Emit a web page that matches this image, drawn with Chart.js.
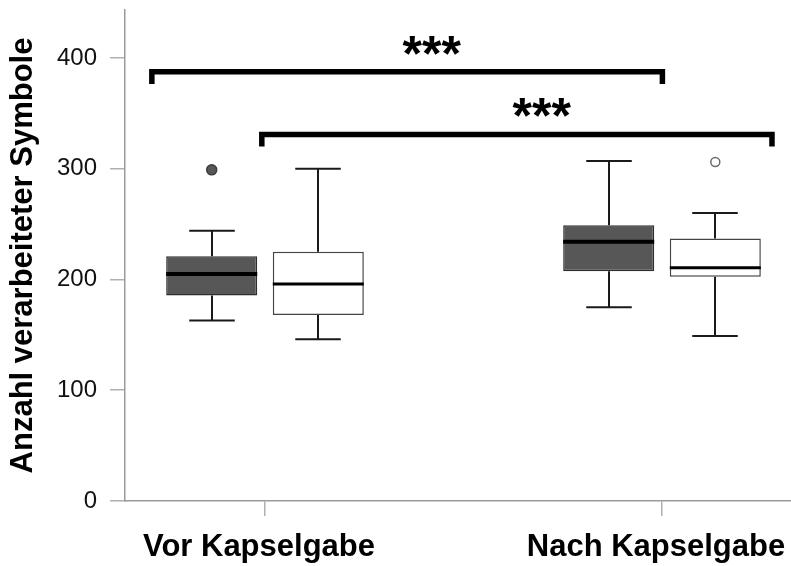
<!DOCTYPE html>
<html>
<head>
<meta charset="utf-8">
<script src="https://cdn.jsdelivr.net/npm/chart.js@4/dist/chart.umd.min.js"></script>
<style>
  html, body { margin: 0; padding: 0; background: #fff; }
  #wrap { width: 791px; height: 566px; }
</style>
</head>
<body>
<div id="wrap"><canvas id="c" width="791" height="566"></canvas></div>
<script>
// Zeitpunkte
const categories = ['Vor Kapselgabe', 'Nach Kapselgabe'];
const yTicks = [0, 100, 200, 300, 400];

// Gruppe 1 (dunkle Boxen)
const darkMin     = [163, 175];
const darkQ1      = [185.5, 207.5];
const darkMedian  = [205, 234];
const darkQ3      = [221, 249];
const darkMax     = [244, 307];
const darkOutliers = [[299], []];

// Gruppe 2 (helle Boxen)
const lightMin     = [146, 149];
const lightQ1      = [168, 202.5];
const lightMedian  = [196, 210.5];
const lightQ3      = [225, 237];
const lightMax     = [300, 260];
const lightOutliers = [[], [306]];

// Signifikanzklammern
const sigLabels = ['***', '***'];
const sigLevels = [387.5, 331];

const FONT = "'Liberation Sans', Arial, Helvetica, sans-serif";

const groups = [
  { min: darkMin, q1: darkQ1, med: darkMedian, q3: darkQ3, max: darkMax, out: darkOutliers,
    medWidth: 4, outFill: '#575757', outStroke: '#3c3c3c', outRadius: 5 },
  { min: lightMin, q1: lightQ1, med: lightMedian, q3: lightQ3, max: lightMax, out: lightOutliers,
    medWidth: 3, outFill: '#ffffff', outStroke: '#6a6a6a', outRadius: 4.5 }
];

// Klammergeometrie (in Achseneinheiten der x-Achse)
const brackets = [
  { from: 0.715, to: 2.001, drop: 11, textX: 1.42,  textY: 414 },
  { from: 0.992, to: 2.277, drop: 11, textX: 1.697, textY: 358 }
];

const boxPlugin = {
  id: 'boxWhiskers',
  beforeDatasetsDraw(chart) {
    const { ctx, scales: { y } } = chart;
    ctx.save();
    ctx.strokeStyle = '#1a1a1a';
    ctx.lineWidth = 2;
    ctx.lineCap = 'butt';
    groups.forEach((g, di) => {
      chart.getDatasetMeta(di).data.forEach((el, i) => {
        const cx = Math.round(el.x);
        const capHalf = el.width / 4;
        const yMax = y.getPixelForValue(g.max[i]);
        const yMin = y.getPixelForValue(g.min[i]);
        const yQ3 = y.getPixelForValue(g.q3[i]);
        const yQ1 = y.getPixelForValue(g.q1[i]);
        ctx.beginPath();
        ctx.moveTo(cx, yQ3); ctx.lineTo(cx, yMax);
        ctx.moveTo(cx - capHalf, yMax); ctx.lineTo(cx + capHalf, yMax);
        ctx.moveTo(cx, yQ1); ctx.lineTo(cx, yMin);
        ctx.moveTo(cx - capHalf, yMin); ctx.lineTo(cx + capHalf, yMin);
        ctx.stroke();
      });
    });
    ctx.restore();
  },
  afterDatasetsDraw(chart) {
    const { ctx, scales: { y } } = chart;
    ctx.save();
    groups.forEach((g, di) => {
      chart.getDatasetMeta(di).data.forEach((el, i) => {
        const half = el.width / 2;
        const ym = y.getPixelForValue(g.med[i]);
        ctx.strokeStyle = '#000';
        ctx.lineWidth = g.medWidth;
        ctx.beginPath();
        ctx.moveTo(el.x - half, ym);
        ctx.lineTo(el.x + half, ym);
        ctx.stroke();
        g.out[i].forEach(v => {
          ctx.beginPath();
          ctx.arc(el.x, y.getPixelForValue(v), g.outRadius, 0, Math.PI * 2);
          ctx.fillStyle = g.outFill;
          ctx.fill();
          ctx.lineWidth = 1.5;
          ctx.strokeStyle = g.outStroke;
          ctx.stroke();
        });
      });
    });
    ctx.restore();
  },
  afterDraw(chart) {
    const { ctx, scales: { x, y } } = chart;
    ctx.save();
    brackets.forEach((b, k) => {
      const yl = y.getPixelForValue(sigLevels[k]);
      const x0 = x.getPixelForValue(b.from);
      const x1 = x.getPixelForValue(b.to);
      const yd = y.getPixelForValue(sigLevels[k] - b.drop);
      ctx.strokeStyle = '#000';
      ctx.lineWidth = 5.5;
      ctx.lineJoin = 'miter';
      ctx.lineCap = 'butt';
      ctx.beginPath();
      ctx.moveTo(x0, yd);
      ctx.lineTo(x0, yl);
      ctx.lineTo(x1, yl);
      ctx.lineTo(x1, yd);
      ctx.stroke();
      ctx.fillStyle = '#000';
      ctx.font = 'bold 50px ' + FONT;
      ctx.textAlign = 'center';
      ctx.textBaseline = 'alphabetic';
      ctx.fillText(sigLabels[k], x.getPixelForValue(b.textX), y.getPixelForValue(b.textY) + 50 * 0.57);
    });
    ctx.restore();
  }
};

const X_MIN = 1 - 140 / 397;
const X_MAX = X_MIN + 666 / 397;

new Chart(document.getElementById('c'), {
  type: 'bar',
  data: {
    datasets: [
      {
        label: 'Gruppe 1',
        data: categories.map((c, i) => ({ x: i + 1, y: [darkQ1[i], darkQ3[i]] })),
        backgroundColor: '#575757',
        borderColor: '#2e2e2e',
        borderWidth: 1.5,
        borderSkipped: false
      },
      {
        label: 'Gruppe 2',
        data: categories.map((c, i) => ({ x: i + 1, y: [lightQ1[i], lightQ3[i]] })),
        backgroundColor: '#ffffff',
        borderColor: '#444444',
        borderWidth: 1.5,
        borderSkipped: false
      }
    ]
  },
  options: {
    responsive: false,
    animation: false,
    devicePixelRatio: 1,
    categoryPercentage: 0.537,
    barPercentage: 0.854,
    layout: { padding: { top: 10, left: 0, right: 0, bottom: 0 } },
    plugins: { legend: { display: false }, tooltip: { enabled: false } },
    scales: {
      x: {
        type: 'linear',
        min: X_MIN,
        max: X_MAX,
        offset: false,
        grid: { offset: false, drawOnChartArea: false, drawTicks: true, tickLength: 15, color: '#b0b0b0', lineWidth: 1.5 },
        border: { display: true, color: '#9a9a9a', width: 1.5 },
        afterBuildTicks(scale) { scale.ticks = categories.map((c, i) => ({ value: i + 1 })); },
        afterFit(scale) {
          scale.height = 65;
          scale.paddingLeft = 0;
          scale.paddingRight = 0;
        },
        ticks: {
          padding: 13,
          labelOffset: -6,
          maxRotation: 0,
          autoSkip: false,
          color: '#000',
          font: { family: FONT, size: 31, weight: 'bold' },
          callback: (v, i) => categories[i]
        }
      },
      y: {
        type: 'linear',
        min: 0,
        max: 443.3,
        grid: { drawOnChartArea: false, drawTicks: true, tickLength: 15, color: '#b0b0b0', lineWidth: 1.5 },
        border: { display: true, color: '#9a9a9a', width: 1.5 },
        afterBuildTicks(scale) { scale.ticks = yTicks.map(v => ({ value: v })); },
        afterFit(scale) {
          scale.width = 125;
          scale.paddingTop = 0;
          scale.paddingBottom = 0;
        },
        ticks: {
          padding: 13,
          color: '#111',
          font: { family: FONT, size: 24 },
          callback: v => String(v)
        },
        title: {
          display: true,
          text: 'Anzahl verarbeiteter Symbole',
          color: '#000',
          font: { family: FONT, size: 31, weight: 'bold' },
          padding: { top: 5, bottom: 0 }
        }
      }
    }
  },
  plugins: [boxPlugin]
});
</script>
</body>
</html>
